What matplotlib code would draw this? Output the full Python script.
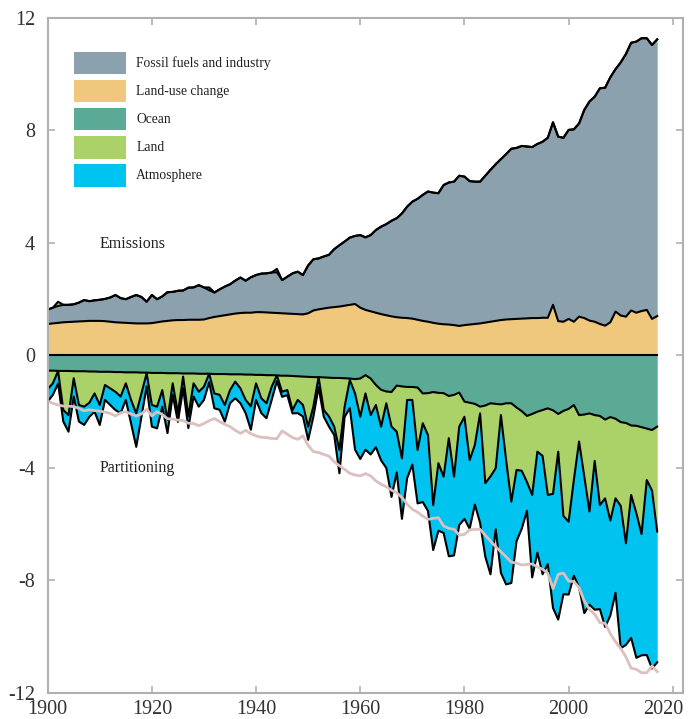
import matplotlib.pyplot as plt
import matplotlib.transforms as mtransforms
import numpy as np

plt.rcParams['font.family'] = ['Liberation Serif', 'DejaVu Serif']
plt.rcParams['axes.unicode_minus'] = False

years = np.arange(1900, 2018)

# GtC per year
fossil = [
    0.51, 0.56, 0.60, 0.62, 0.61, 0.62, 0.67, 0.75, 0.70, 0.73,
    0.75, 0.79, 0.86, 0.97, 0.87, 0.84, 0.93, 1.01, 0.94, 0.77,
    1.00, 0.82, 0.89, 1.02, 1.01, 1.04, 1.05, 1.14, 1.15, 1.23,
    1.14, 0.99, 0.87, 0.95, 1.02, 1.07, 1.17, 1.26, 1.14, 1.26,
    1.32, 1.37, 1.39, 1.43, 1.45, 1.18, 1.31, 1.44, 1.51, 1.40,
    1.70, 1.82, 1.81, 1.85, 1.88, 2.06, 2.18, 2.28, 2.39, 2.42,
    2.58, 2.58, 2.71, 2.94, 3.11, 3.24, 3.40, 3.52, 3.71, 3.96,
    4.16, 4.30, 4.48, 4.63, 4.63, 4.64, 4.95, 5.05, 5.10, 5.34,
    5.28, 5.10, 5.06, 5.04, 5.22, 5.40, 5.57, 5.72, 5.88, 6.06,
    6.08, 6.14, 6.11, 6.08, 6.19, 6.26, 6.40, 6.49, 6.56, 6.54,
    6.72, 6.84, 6.87, 7.40, 7.79, 8.00, 8.38, 8.46, 8.71, 8.62,
    9.00, 9.34, 9.52, 9.64, 9.70, 9.66, 9.74, 9.84,
]
land_use = [
    1.12, 1.14, 1.16, 1.18, 1.19, 1.20, 1.21, 1.22, 1.23, 1.23,
    1.23, 1.22, 1.20, 1.18, 1.17, 1.16, 1.15, 1.14, 1.14, 1.14,
    1.15, 1.18, 1.21, 1.23, 1.25, 1.26, 1.26, 1.27, 1.27, 1.27,
    1.28, 1.33, 1.37, 1.40, 1.43, 1.46, 1.49, 1.51, 1.52, 1.52,
    1.54, 1.54, 1.53, 1.52, 1.51, 1.50, 1.49, 1.48, 1.47, 1.46,
    1.50, 1.60, 1.64, 1.67, 1.70, 1.72, 1.74, 1.77, 1.80, 1.83,
    1.70, 1.62, 1.57, 1.52, 1.47, 1.43, 1.39, 1.36, 1.34, 1.33,
    1.31, 1.27, 1.23, 1.20, 1.16, 1.13, 1.11, 1.10, 1.08, 1.05,
    1.08, 1.10, 1.12, 1.14, 1.17, 1.20, 1.23, 1.26, 1.28, 1.29,
    1.30, 1.31, 1.32, 1.33, 1.33, 1.34, 1.34, 1.80, 1.22, 1.20,
    1.30, 1.20, 1.38, 1.33, 1.24, 1.20, 1.12, 1.06, 1.18, 1.56,
    1.42, 1.38, 1.60, 1.52, 1.58, 1.62, 1.30, 1.40,
]
ocean = [
    0.54, 0.54, 0.55, 0.55, 0.55, 0.56, 0.56, 0.56, 0.57, 0.57,
    0.58, 0.58, 0.58, 0.59, 0.59, 0.60, 0.60, 0.60, 0.61, 0.61,
    0.62, 0.62, 0.62, 0.63, 0.63, 0.63, 0.64, 0.64, 0.64, 0.65,
    0.65, 0.65, 0.66, 0.66, 0.66, 0.67, 0.67, 0.67, 0.68, 0.68,
    0.69, 0.69, 0.70, 0.70, 0.71, 0.72, 0.72, 0.73, 0.74, 0.75,
    0.76, 0.77, 0.77, 0.78, 0.79, 0.80, 0.80, 0.81, 0.82, 0.84,
    0.82, 0.70, 0.82, 1.05, 1.22, 1.28, 1.30, 1.07, 1.10, 1.12,
    1.12, 1.14, 1.35, 1.34, 1.30, 1.33, 1.34, 1.44, 1.40, 1.32,
    1.64, 1.68, 1.72, 1.82, 1.78, 1.70, 1.72, 1.74, 1.70, 1.70,
    1.85, 1.98, 2.15, 2.08, 2.00, 1.94, 1.88, 1.95, 2.08, 1.97,
    1.90, 1.76, 2.12, 2.10, 2.06, 2.12, 2.15, 2.28, 2.19, 2.25,
    2.37, 2.40, 2.49, 2.50, 2.55, 2.60, 2.65, 2.53,
]
land = [
    0.66, 0.45, -0.15, 1.39, 1.57, 0.25, 1.20, 1.26, 1.11, 0.78,
    1.18, 0.47, 0.59, 0.70, 0.87, 0.39, 0.98, 1.46, 0.74, 0.02,
    1.14, 1.20, 0.61, 1.66, 0.36, 1.43, 0.11, 1.53, 0.35, 0.64,
    0.46, -0.10, 0.69, 0.74, 1.10, 0.56, 0.26, 0.50, 0.90, 1.13,
    0.30, 0.83, 1.00, 0.41, -0.12, 0.57, 0.51, 1.21, 0.84, 1.01,
    1.77, 1.05, 0.00, 1.16, 1.38, 1.73, 2.56, 1.01, 0.05, 0.51,
    1.36, 0.65, 1.30, 0.71, 1.31, 0.42, 1.23, 1.64, 2.56, 0.46,
    0.46, 2.22, 1.06, 1.49, 4.02, 2.50, 2.97, 1.50, 2.91, 1.21,
    0.54, 2.04, 1.46, 0.24, 2.76, 2.60, 2.29, 0.38, 2.02, 3.50,
    2.22, 2.12, 2.35, 2.88, 1.42, 1.63, 3.08, 2.97, 1.34, 3.74,
    4.01, 2.67, 0.94, 2.20, 3.49, 1.63, 3.17, 2.80, 3.68, 2.83,
    2.98, 4.28, 2.47, 3.11, 3.80, 1.83, 2.15, 3.73,
]
atmosphere = [
    0.44, 0.41, 0.45, 0.41, 0.59, 0.65, 0.59, 0.65, 0.50, 0.65,
    0.71, 0.53, 0.59, 0.65, 0.59, 0.59, 0.83, 1.19, 0.83, 0.47,
    0.77, 0.77, 0.59, 0.47, 0.41, 0.30, 0.41, 0.41, 0.47, 0.53,
    0.47, 0.30, 0.53, 0.53, 0.59, 0.47, 0.59, 0.53, 0.47, 0.83,
    0.59, 0.53, 0.53, 0.47, 0.20, 0.18, 0.18, 0.12, 0.47, 0.41,
    0.47, 0.36, 0.36, 0.24, 0.36, 0.30, 0.83, 0.36, 1.00, 2.00,
    1.50, 2.00, 1.40, 1.50, 1.20, 2.30, 2.50, 1.45, 2.15, 2.78,
    2.30, 1.90, 2.80, 2.70, 1.60, 2.40, 2.00, 4.20, 2.80, 3.50,
    3.63, 2.44, 2.12, 3.89, 2.61, 3.48, 2.17, 5.61, 4.42, 2.89,
    2.53, 2.06, 1.02, 2.93, 3.59, 4.21, 2.46, 4.06, 5.97, 2.78,
    2.59, 3.40, 5.18, 4.86, 3.31, 5.29, 3.70, 4.57, 3.38, 3.36,
    5.06, 3.61, 5.08, 5.14, 4.31, 6.22, 6.33, 4.65,
]

labels = ['Fossil fuels and industry', 'Land-use change', 'Ocean', 'Land', 'Atmosphere']
colors = ['#8ca1ae', '#f0c87d', '#5aaa96', '#aad269', '#00c3f0']
c_ff, c_luc, c_ocean, c_land, c_atm = colors

fossil = np.array(fossil)
land_use = np.array(land_use)
ocean = np.array(ocean)
land = np.array(land)
atmosphere = np.array(atmosphere)

# a negative land sink is a source: stack it on top of the emissions
land_sink = np.clip(land, 0, None)
land_source = np.clip(-land, 0, None)

ff_top = land_use + fossil
src_top = ff_top + land_source
ocean_bot = -ocean
land_bot = ocean_bot - land_sink
atm_bot = land_bot - atmosphere

fig = plt.figure(figsize=(6.88, 7.19), dpi=100)
ax = fig.add_axes([0.0693, 0.0362, 0.9238, 0.9388])

ax.fill_between(years, 0, land_use, color=c_luc, lw=0)
ax.fill_between(years, land_use, ff_top, color=c_ff, lw=0)
ax.fill_between(years, ff_top, src_top, color=c_land, lw=0)
ax.fill_between(years, 0, ocean_bot, color=c_ocean, lw=0)
ax.fill_between(years, ocean_bot, land_bot, color=c_land, lw=0)
ax.fill_between(years, land_bot, atm_bot, color=c_atm, lw=0)

for edge in [land_use, ff_top, src_top, np.zeros_like(land_use), ocean_bot, land_bot, atm_bot]:
    ax.plot(years, edge, color='black', lw=1.5, solid_joinstyle='round')

# total emissions mirrored below zero
ax.plot(years, -(fossil + land_use), color='#dcc0c0', lw=2)

# legend boxes
for i, (lab, col) in enumerate(zip(labels, colors)):
    y0 = 10 - i
    ax.add_patch(plt.Rectangle((1905, y0), 10, 0.8, facecolor=col, edgecolor='none'))
    ax.text(1917, y0 + 0.4, lab, fontsize=9.8, va='center', ha='left', color='#222222')

ax.text(1910, 3.95, 'Emissions', fontsize=11.5, va='center', ha='left', color='#222222')
ax.text(1910, -4.0, 'Partitioning', fontsize=11.5, va='center', ha='left', color='#222222')

ax.set_xlim(1900, 2022)
ax.set_ylim(-12, 12)
ax.set_xticks(range(1900, 2021, 20))
ax.set_yticks(range(-12, 13, 4))
ax.tick_params(direction='in', top=True, right=True, length=5, width=1.2,
               color='#b0b0b0', labelsize=14.5, labelcolor='#333333')
ax.tick_params(axis='y', pad=9)
ax.tick_params(axis='x', pad=5)
for sp in ax.spines.values():
    sp.set_color('#b0b0b0')
    sp.set_linewidth(1.5)

# nudge the last year label so it stays inside the figure
last = ax.get_xticklabels()[-1]
last.set_transform(last.get_transform() +
                   mtransforms.ScaledTranslation(-7 / 72, 0, fig.dpi_scale_trans))

fig.savefig('out.png', dpi=100, facecolor='white')
plt.close(fig)
